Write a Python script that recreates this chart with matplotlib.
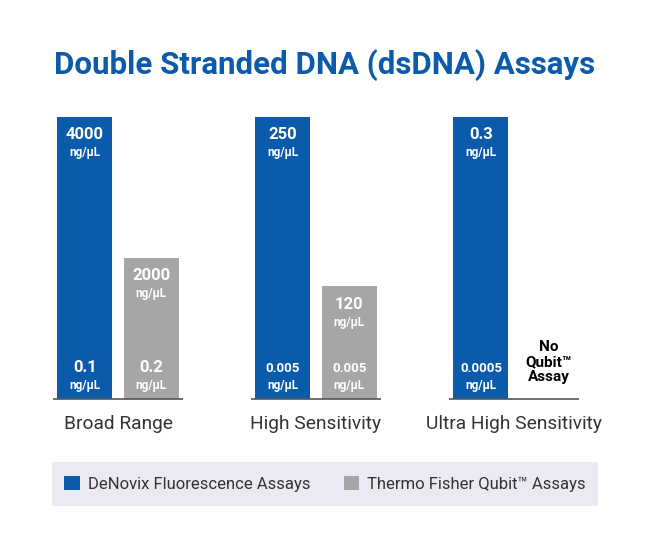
import numpy as np
import matplotlib.pyplot as plt
from matplotlib.patches import Rectangle

plt.rcParams["font.family"] = ["Roboto", "DejaVu Sans"]

title = "Double Stranded DNA (dsDNA) Assays"
categories = ["Broad Range", "High Sensitivity", "Ultra High Sensitivity"]
series = ["DeNovix Fluorescence Assays", "Thermo Fisher Qubit™ Assays"]

# drawn bar heights (illustrative, not to scale)
denovix_height = [1.0, 1.0, 1.0]
qubit_height = [0.5, 0.4, 0.0]

# range labels in ng/µL
denovix_max = ["4000", "250", "0.3"]
denovix_min = ["0.1", "0.005", "0.0005"]
qubit_max = ["2000", "120", None]
qubit_min = ["0.2", "0.005", None]

blue = "#0B5BAA"
gray = "#A6A6A6"
dark = "#333333"

fig = plt.figure(figsize=(6.5, 5.4), dpi=100)
ax = fig.add_axes([0, 141 / 540, 1, 282 / 540])
ax.set_xlim(-118 / 198, 532 / 198)
ax.set_ylim(0, 1)
ax.axis("off")

x = np.arange(len(categories))
w = 0.278
off = 0.167

b1 = ax.bar(x - off, denovix_height, width=w, color=blue, label=series[0])
b2 = ax.bar(x + off, qubit_height, width=w, color=gray, label=series[1])
ax.hlines(np.zeros(len(x)), x - 0.33, x + 0.33, color="#555555", lw=1.2, clip_on=False)


def range_labels(xpos, top, hi, lo):
    small = len(lo) > 4
    ax.annotate(hi, (xpos, top), xytext=(0, -18), textcoords="offset pixels",
                ha="center", va="center", color="white", fontsize=12, weight="bold")
    ax.annotate("ng/µL", (xpos, top), xytext=(0, -36), textcoords="offset pixels",
                ha="center", va="center", color="white", fontsize=8.5, weight="bold")
    ax.annotate(lo, (xpos, 0), xytext=(0, 31), textcoords="offset pixels",
                ha="center", va="center", color="white",
                fontsize=9.5 if small else 12, weight="bold")
    ax.annotate("ng/µL", (xpos, 0), xytext=(0, 14), textcoords="offset pixels",
                ha="center", va="center", color="white", fontsize=8.5, weight="bold")


for i in range(len(categories)):
    range_labels(x[i] - off, denovix_height[i], denovix_max[i], denovix_min[i])
    if qubit_max[i] is not None:
        range_labels(x[i] + off, qubit_height[i], qubit_max[i], qubit_min[i])
    else:
        ax.annotate("No\nQubit™\nAssay", (x[i] + off, 0), xytext=(2, 37),
                    textcoords="offset pixels", ha="center", va="center",
                    color="black", fontsize=11, weight="bold", linespacing=1.1)
    ax.annotate(categories[i], (x[i], 0), xytext=(0, -25), textcoords="offset pixels",
                ha="center", va="center", color=dark, fontsize=13.8)

fig.text(0.5, 1 - 65 / 540, title, ha="center", va="center",
         fontsize=22.5, weight="bold", color=blue)

fig.patches.append(Rectangle((52 / 650, 1 - 506 / 540), 546 / 650, 44 / 540,
                             transform=fig.transFigure, facecolor="#E9EAF2",
                             edgecolor="none", zorder=0))
fig.legend(handles=[b1, b2], labels=series, loc="center",
           bbox_to_anchor=(0.5, 1 - 484 / 540), ncol=2, frameon=False,
           fontsize=12, handlelength=0.95, handleheight=0.95, handletextpad=0.45,
           columnspacing=2.0, labelcolor=dark)

fig.savefig("out.png", dpi=100)
